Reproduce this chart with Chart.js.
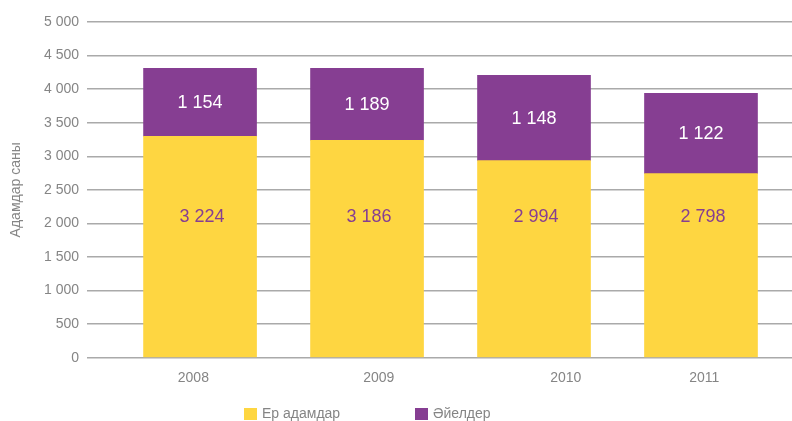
<!DOCTYPE html>
<html>
<head>
<meta charset="utf-8">
<script src="https://cdn.jsdelivr.net/npm/chart.js@4/dist/chart.umd.min.js"></script>
<style>
  html, body { margin: 0; padding: 0; background: #fff; }
  #wrap { width: 792px; height: 421px; }
</style>
</head>
<body>
<div id="wrap"><canvas id="chart" width="792" height="421"></canvas></div>
<script>
// Данные
const years = ['2008', '2009', '2010', '2011'];
// числа, подписанные на столбцах
const menLabels = [3224, 3186, 2994, 2798];
const womenLabels = [1154, 1189, 1148, 1122];
// высоты столбцов так, как они нарисованы на картинке
const menBars = [3298, 3239, 2936, 2742];
const womenBars = [1011, 1070, 1268, 1194];
const seriesNames = ['Ер адамдар', 'Әйелдер'];

const YELLOW = '#FED641';
const PURPLE = '#863E92';
const GREY = '#858585';
const FONT = "'Liberation Sans', Arial, sans-serif";

// подписи лет стоят не точно под центрами столбцов
const yearTickPos = [-0.04, 1.07, 2.19, 3.02];

function fmt(v) {
  if (v < 1000) return String(v);
  return Math.floor(v / 1000) + ' ' + String(v % 1000).padStart(3, '0');
}

// подписи значений на столбцах
const valueLabels = {
  id: 'valueLabels',
  afterDatasetsDraw(chart) {
    const ctx = chart.ctx;
    const y = chart.scales.y;
    ctx.save();
    ctx.font = '18px ' + FONT;
    ctx.textAlign = 'center';
    ctx.textBaseline = 'middle';
    chart.getDatasetMeta(0).data.forEach((bar, i) => {
      ctx.fillStyle = PURPLE;
      ctx.fillText(fmt(menLabels[i]), bar.x + 2, y.getPixelForValue(2100));
    });
    chart.getDatasetMeta(1).data.forEach((bar, i) => {
      ctx.fillStyle = '#ffffff';
      ctx.fillText(fmt(womenLabels[i]), bar.x, (bar.y + bar.base) / 2 + 1);
    });
    ctx.restore();
  }
};

// легенда внизу
const bottomLegend = {
  id: 'bottomLegend',
  afterDraw(chart) {
    const ctx = chart.ctx;
    const items = [
      { x: 244, color: YELLOW, text: seriesNames[0] },
      { x: 415, color: PURPLE, text: seriesNames[1] }
    ];
    ctx.save();
    ctx.font = '14px ' + FONT;
    ctx.textBaseline = 'middle';
    items.forEach(it => {
      ctx.fillStyle = it.color;
      ctx.fillRect(it.x, 408, 13, 12);
      ctx.fillStyle = GREY;
      ctx.fillText(it.text, it.x + 18, 414);
    });
    ctx.restore();
  }
};

new Chart(document.getElementById('chart'), {
  type: 'bar',
  data: {
    datasets: [
      {
        label: seriesNames[0],
        data: menBars.map((v, i) => ({ x: i, y: v })),
        backgroundColor: YELLOW,
        barThickness: 113
      },
      {
        label: seriesNames[1],
        data: womenBars.map((v, i) => ({ x: i, y: v })),
        backgroundColor: PURPLE,
        barThickness: 113
      }
    ]
  },
  options: {
    responsive: false,
    devicePixelRatio: 1,
    animation: false,
    layout: { padding: { top: 22, right: 0, bottom: 0, left: 0 } },
    plugins: {
      legend: { display: false },
      tooltip: { enabled: false }
    },
    scales: {
      x: {
        type: 'linear',
        stacked: true,
        offset: false,
        min: -0.677,
        max: 3.545,
        grid: { display: false },
        border: { display: false },
        afterBuildTicks: (s) => { s.ticks = yearTickPos.map(v => ({ value: v })); },
        afterFit: (s) => { s.height = 63.3; },
        ticks: {
          autoSkip: false,
          maxRotation: 0,
          padding: 4,
          color: GREY,
          font: { family: FONT, size: 14 },
          callback: (v, i) => years[i]
        }
      },
      y: {
        stacked: true,
        min: 0,
        max: 5000,
        afterFit: (s) => { s.width = 87; },
        grid: { color: '#aaaaaa', lineWidth: 1.5, drawTicks: false },
        border: { display: false },
        ticks: {
          stepSize: 500,
          padding: 8,
          color: GREY,
          font: { family: FONT, size: 14 },
          callback: (v) => fmt(v)
        },
        title: {
          display: true,
          text: 'Адамдар саны',
          color: GREY,
          font: { family: FONT, size: 14 },
          padding: { top: 8, bottom: 0 }
        }
      }
    }
  },
  plugins: [valueLabels, bottomLegend]
});
</script>
</body>
</html>
